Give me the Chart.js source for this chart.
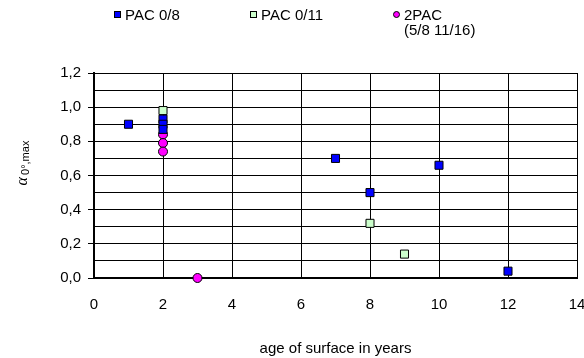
<!DOCTYPE html>
<html><head><meta charset="utf-8">
<script src="https://cdn.jsdelivr.net/npm/chart.js@4"></script>
<style>
html,body{margin:0;padding:0;background:#fff;}
#wrap{position:relative;width:584px;height:358px;font-family:"Liberation Sans",Arial,sans-serif;overflow:hidden;}
canvas{position:absolute;left:0;top:0;}
.lg{position:absolute;font-size:15px;color:#000;line-height:15px;white-space:nowrap;}
.mk{position:absolute;box-sizing:border-box;border:1px solid #000;}
</style></head><body>
<div id="wrap">
<canvas id="c" width="584" height="358"></canvas>
<div class="mk" style="left:114px;top:11px;width:7px;height:7px;background:#0000ff"></div>
<div class="lg" style="left:125px;top:7px">PAC 0/8</div>
<div class="mk" style="left:250px;top:11px;width:7px;height:7px;background:#ccffcc"></div>
<div class="lg" style="left:261px;top:7px">PAC 0/11</div>
<div class="mk" style="left:393px;top:11px;width:7px;height:7px;border-radius:50%;background:#ff00ff"></div>
<div class="lg" style="left:404px;top:7px">2PAC<br>(5/8 11/16)</div>
</div>
<script>
const seriesNames = ["PAC 0/8", "PAC 0/11", "2PAC (5/8 11/16)"];
const pac08X = [1, 2, 2, 2, 7, 8, 10, 12];
const pac08Y = [0.90, 0.93, 0.90, 0.87, 0.70, 0.50, 0.66, 0.04];
const pac011X = [2, 8, 9];
const pac011Y = [0.98, 0.32, 0.14];
const pac2X = [2, 2, 2, 3];
const pac2Y = [0.84, 0.79, 0.74, 0.00];
const xTicks = [0, 2, 4, 6, 8, 10, 12, 14];
const yTicks = [0, 0.2, 0.4, 0.6, 0.8, 1.0, 1.2];

const pts = (xs, ys) => xs.map((x, i) => ({x, y: ys[i]}));
const fmt = v => v.toFixed(1).replace('.', ',');
const isMajor = v => yTicks.some(t => Math.abs(t - v) < 1e-6);

const yTitle = {
  id: 'yTitle',
  afterDraw(chart) {
    const ctx = chart.ctx;
    ctx.save();
    ctx.translate(22, 163);
    ctx.rotate(-Math.PI / 2);
    ctx.fillStyle = '#000';
    ctx.textBaseline = 'alphabetic';
    ctx.font = 'italic 16px "Liberation Serif", serif';
    const w1 = ctx.measureText('α').width;
    ctx.font = '11px "Liberation Sans", Arial, sans-serif';
    const w2 = ctx.measureText('0°,max').width;
    const total = w1 + 2 + w2;
    ctx.font = 'italic 16px "Liberation Serif", serif';
    ctx.fillText('α', -total / 2, 5);
    ctx.font = '11px "Liberation Sans", Arial, sans-serif';
    ctx.fillText('0°,max', -total / 2 + w1 + 2, 7);
    ctx.restore();
  }
};

new Chart(document.getElementById('c'), {
  type: 'scatter',
  data: {
    datasets: [
      {label: seriesNames[0], data: pts(pac08X, pac08Y), pointStyle: 'rect', pointRadius: 5.7, pointHoverRadius: 5.7,
       backgroundColor: '#0000ff', borderColor: '#000', borderWidth: 1},
      {label: seriesNames[1], data: pts(pac011X, pac011Y), pointStyle: 'rect', pointRadius: 5.7, pointHoverRadius: 5.7,
       backgroundColor: '#ccffcc', borderColor: '#000', borderWidth: 1},
      {label: seriesNames[2], data: pts(pac2X, pac2Y), pointStyle: 'circle', pointRadius: 4.5, pointHoverRadius: 4.5,
       backgroundColor: '#ff00ff', borderColor: '#000', borderWidth: 1}
    ]
  },
  options: {
    responsive: false,
    animation: false,
    clip: false,
    layout: {padding: {top: 73, right: 7, left: 0, bottom: 0}},
    plugins: {legend: {display: false}, tooltip: {enabled: false}},
    scales: {
      x: {
        type: 'linear', min: xTicks[0], max: xTicks[xTicks.length - 1],
        afterFit: s => { s.height = 80; s.paddingLeft = 0; s.paddingRight = 0; },
        grid: {color: '#000', lineWidth: 1, drawTicks: false},
        border: {color: '#000', width: 2},
        ticks: {count: xTicks.length, color: '#000', padding: 18, autoSkip: false, font: {family: '"Liberation Sans", Arial, sans-serif', size: 15}, maxRotation: 0,
                callback: v => String(Math.round(v))},
        title: {display: true, text: 'age of surface in years', color: '#000', padding: {top: 0, bottom: 0},
                font: {family: '"Liberation Sans", Arial, sans-serif', size: 15}}
      },
      y: {
        type: 'linear', min: yTicks[0], max: yTicks[yTicks.length - 1],
        afterFit: s => { s.width = 94; s.paddingTop = 0; s.paddingBottom = 0; },
        grid: {color: '#000', lineWidth: 1, tickLength: 6,
               tickColor: c => (c.tick && isMajor(c.tick.value)) ? '#000' : 'rgba(0,0,0,0)'},
        border: {color: '#000', width: 2},
        ticks: {count: 13, color: '#000', padding: 7, autoSkip: false, font: {family: '"Liberation Sans", Arial, sans-serif', size: 15},
                callback: v => isMajor(v) ? fmt(v) : ''}
      }
    }
  },
  plugins: [yTitle]
});
</script>
</body></html>
